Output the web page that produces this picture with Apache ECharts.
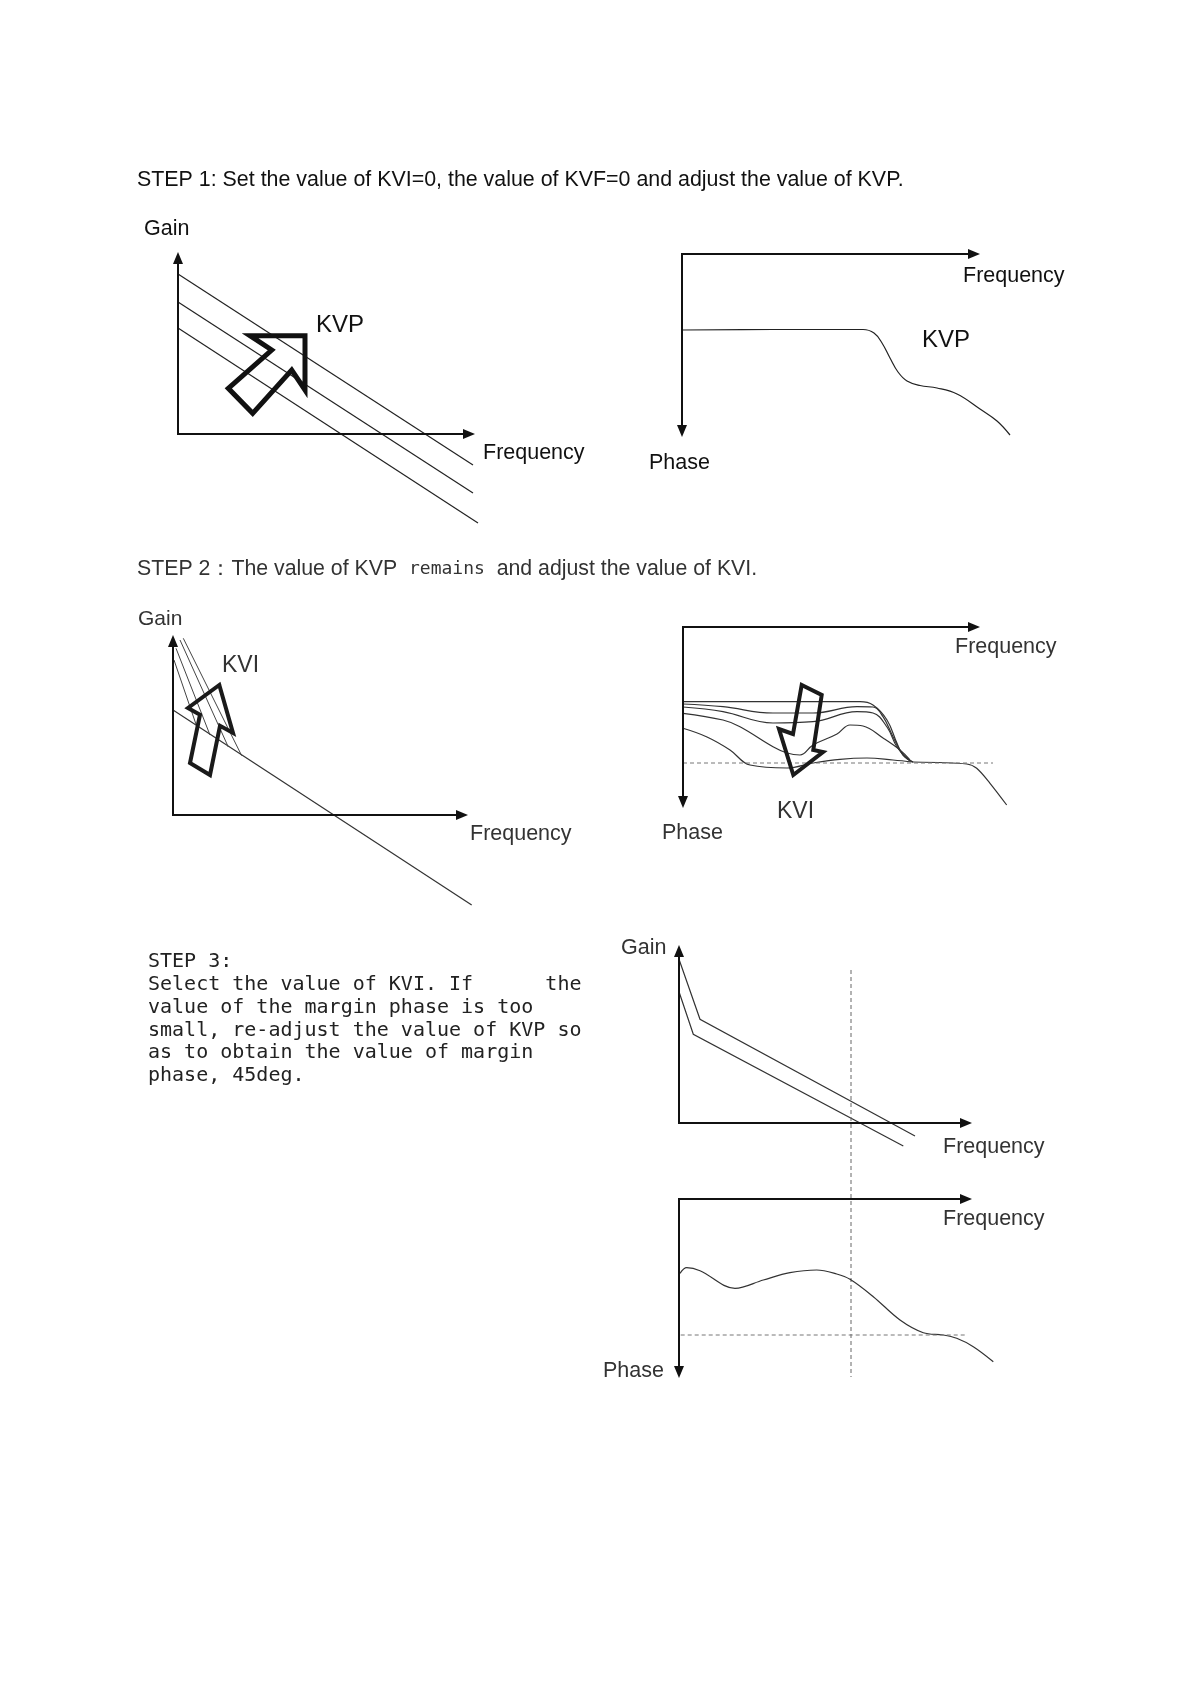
<!DOCTYPE html>
<html><head><meta charset="utf-8">
<script src="https://cdn.jsdelivr.net/npm/echarts@6/dist/echarts.min.js"></script>
<style>html,body{margin:0;padding:0;background:#fff}#c{width:1190px;height:1684px}</style>
</head><body><div id="c"></div>
<script>
// ---------- DATA (local diagram units, origin at each panel's axis corner) ----------
// Axis arrow lengths per panel: [frequency axis, gain/phase axis]
const axisLengths = [[291,176],[292,177],[289,174],[291,175],[287,172],[287,173]];
// STEP 1 – gain vs frequency (three parallel KVP lines)
const s1GainLineA = [[0,160],[295,-31]];
const s1GainLineB = [[0,132],[295,-59]];
const s1GainLineC = [[0,106],[300,-89]];
const s1KvpArrow = [[127,98.3],[127,44],[113.7,64],[74.7,20.7],[50.3,45.7],[93.7,84],[72,98.3]];
// STEP 1 – phase vs frequency
const s1PhaseCurve = [[0,76],[90,75.5],[181,75.5],[192,79],[200,89],[208,104],[216,118],[225,127],[238,131.5],[255,134],[275,140],[298,155],[315,167],[328,181]];
// STEP 2 – gain
const s2GainMain = [[0,105],[298.7,-90]];
const s2GainSteep1 = [[1,155],[23,90.7]];
const s2GainSteep2 = [[3,166.7],[37,80]];
const s2GainSteep3 = [[7,175],[55.3,68]];
const s2GainSteep4 = [[10.3,176.7],[68.7,59.3]];
const s2KviArrowUp = [[46.3,130],[60,82],[47,89.2],[37,40],[17,52],[27,100.3],[15,107]];
// STEP 2 – phase (family of KVI curves)
const s2PhaseC1 = [[0,74.7],[90,74.7],[177,74.7],[190,78],[204,93],[214,116.3],[220,128],[230,135]];
const s2PhaseC2 = [[0,77],[40,79.7],[90,86],[130,86],[174,79.7],[190,80],[200,89.7],[210,109.7],[220,128],[230,135]];
const s2PhaseC3 = [[0,80],[40,84.7],[90,96],[130,94.7],[174,84.7],[190,86],[204,100],[214,120],[227,134]];
const s2PhaseC4 = [[0,86.3],[40,93],[57,99.7],[90,119.7],[104,126],[117,128],[130,118],[154,107],[167,98],[180,99],[200,111],[217,123],[227,133]];
const s2PhaseC5 = [[0,101.3],[24,110],[47,123],[67,138],[104,141],[130,136],[157,132.3],[184,131],[210,133],[230,135]];
const s2PhaseTail = [[230,135],[283.7,137],[293.7,141.3],[307,156.3],[323.7,178]];
const s2MarginRef = [[0,136],[310,136]];
const s2KviArrowDown = [[118.7,58],[138.7,68],[130.3,123],[140,125],[110.3,148],[96,102],[110,107]];
// STEP 3 – gain
const s3GainUpper = [[0,163.7],[21,103.7],[236,-13]];
const s3GainLower = [[0,131.3],[14.3,88.7],[224.3,-23]];
const s3Crossover = [[172,153],[172,-254]];
// STEP 3 – phase
const s3PhaseCurve = [[1,74.3],[7.7,68.7],[21,71.7],[56,89.3],[84.3,81],[111,73.7],[137.7,71],[157.7,75],[171,80.3],[194.3,97.7],[221,121],[244.3,133.7],[264.3,136],[277.7,139.3],[294.3,147.7],[314.3,162.7]];
const s3MarginRef = [[1.7,136],[287.7,136]];

// ---------- LAYOUT ----------
// origin = page position of the axis corner; x/y = visible local ranges
const panels = [
  {ox:178, oy:434,  x:[-5,335], y:[-100,190], phase:false},  // step1 gain
  {ox:682, oy:254,  x:[-5,340], y:[-10,190],  phase:true},   // step1 phase
  {ox:173, oy:815,  x:[-5,335], y:[-100,190], phase:false},  // step2 gain
  {ox:683, oy:627,  x:[-5,340], y:[-10,190],  phase:true},   // step2 phase
  {ox:679, oy:1123, x:[-5,320], y:[-265,185], phase:false},  // step3 gain
  {ox:679, oy:1199, x:[-5,340], y:[-10,190],  phase:true}    // step3 phase
];
const grids = panels.map(p=>({
  left: p.ox + p.x[0], width: p.x[1]-p.x[0],
  top: p.phase ? p.oy + p.y[0] : p.oy - p.y[1], height: p.y[1]-p.y[0], containLabel:false
}));
const hidden = {show:false};
const xAxis = panels.map((p,i)=>({type:'value', gridIndex:i, min:p.x[0], max:p.x[1],
  axisLine:hidden, axisTick:hidden, axisLabel:hidden, splitLine:hidden}));
const yAxis = panels.map((p,i)=>({type:'value', gridIndex:i, min:p.y[0], max:p.y[1], inverse:p.phase,
  axisLine:hidden, axisTick:hidden, axisLabel:hidden, splitLine:hidden}));

function ln(gi, data, o){
  o = o || {};
  return {type:'line', xAxisIndex:gi, yAxisIndex:gi, data:data, clip:false, silent:true,
    symbol:'none', showSymbol:false, smooth:o.smooth||false, animation:false, z:o.z||2,
    lineStyle:{color:o.color||'#222', width:o.width||1.2, type:o.type||'solid', join:'miter', miterLimit:10}};
}
function axes(gi){
  const L = axisLengths[gi];
  return {type:'line', xAxisIndex:gi, yAxisIndex:gi, data:[[0,0]], symbol:'none', showSymbol:false,
    silent:true, animation:false, z:4, lineStyle:{width:0},
    markLine:{silent:true, animation:false, symbol:['none','triangle'], symbolSize:[10,12],
      label:{show:false}, lineStyle:{color:'#111', width:2, type:'solid'},
      emphasis:{disabled:true},
      data:[[{coord:[-1,0]},{coord:[L[0],0]}],[{coord:[0,-1]},{coord:[0,L[1]]}]]}};
}
function closed(pts){ return pts.concat([pts[0], pts[1]]); }

const series = [
  axes(0), axes(1), axes(2), axes(3), axes(4), axes(5),
  ln(0,s1GainLineA), ln(0,s1GainLineB), ln(0,s1GainLineC),
  ln(0,closed(s1KvpArrow),{color:'#111',width:5,z:3}),
  ln(1,s1PhaseCurve,{smooth:0.4}),
  ln(2,s2GainMain,{color:'#333'}), ln(2,s2GainSteep1,{color:'#444',width:1}), ln(2,s2GainSteep2,{color:'#444',width:1}),
  ln(2,s2GainSteep3,{color:'#444',width:1}), ln(2,s2GainSteep4,{color:'#444',width:1}),
  ln(2,closed(s2KviArrowUp),{color:'#1a1a1a',width:4,z:3}),
  ln(3,s2PhaseC1,{smooth:0.4,color:'#333'}), ln(3,s2PhaseC2,{smooth:0.4,color:'#333'}), ln(3,s2PhaseC3,{smooth:0.4,color:'#333'}),
  ln(3,s2PhaseC4,{smooth:0.4,color:'#333'}), ln(3,s2PhaseC5,{smooth:0.4,color:'#333'}), ln(3,s2PhaseTail,{smooth:0.3,color:'#333'}),
  ln(3,s2MarginRef,{type:[4,3],color:'#777',width:1}),
  ln(3,closed(s2KviArrowDown),{color:'#1a1a1a',width:4,z:3}),
  ln(4,s3GainUpper,{color:'#333'}), ln(4,s3GainLower,{color:'#333'}),
  ln(4,s3Crossover,{type:[4,3],color:'#666',width:1}),
  ln(5,s3PhaseCurve,{smooth:0.35,color:'#333'}),
  ln(5,s3MarginRef,{type:[4,3],color:'#777',width:1})
];

function txt(x,y,text,size,family,color){
  return {type:'text', x:x, y:y, silent:true, style:{text:text, fontSize:size, fontFamily:family||'Liberation Sans',
    fill:color||'#111', align:'left', verticalAlign:'middle'}};
}
const sans = 'Liberation Sans';
const mono = 'DejaVu Sans Mono';
const graphics = [
  txt(137,180,'STEP 1: Set the value of KVI=0, the value of KVF=0 and adjust the value of KVP.',21.4,sans,'#111'),
  txt(144,229,'Gain',21.5,sans),
  txt(316,325,'KVP',24,sans),
  txt(483,453,'Frequency',21.5,sans),
  txt(963,276,'Frequency',21.5,sans),
  txt(922,340,'KVP',24,sans),
  txt(649,463,'Phase',21.5,sans),
  {type:'text', x:137, y:569, silent:true, style:{
    text:'{a|STEP 2：The value of KVP  }{m|remains}{a|  and adjust the value of KVI.}',
    verticalAlign:'middle', align:'left',
    rich:{a:{fontSize:21.3,fontFamily:sans,fill:'#333'}, m:{fontSize:18,fontFamily:mono,fill:'#333'}}}},
  txt(138,619,'Gain',21,sans,'#333'),
  txt(222,666,'KVI',23,sans,'#333'),
  txt(470,834,'Frequency',21.5,sans,'#333'),
  txt(955,647,'Frequency',21.5,sans,'#333'),
  txt(777,812,'KVI',23,sans,'#333'),
  txt(662,833,'Phase',21.5,sans,'#333'),
  txt(148,962,'STEP 3:',20,mono,'#222'),
  txt(148,985,'Select the value of KVI. If      the',20,mono,'#222'),
  txt(148,1008,'value of the margin phase is too',20,mono,'#222'),
  txt(148,1031,'small, re-adjust the value of KVP so',20,mono,'#222'),
  txt(148,1053,'as to obtain the value of margin',20,mono,'#222'),
  txt(148,1076,'phase, 45deg.',20,mono,'#222'),
  txt(621,948,'Gain',21.5,sans,'#333'),
  txt(943,1147,'Frequency',21.5,sans,'#333'),
  txt(943,1219,'Frequency',21.5,sans,'#333'),
  txt(603,1371,'Phase',21.5,sans,'#333')
];

const chart = echarts.init(document.getElementById('c'), null, {renderer:'canvas'});
chart.setOption({
  backgroundColor:'#fff', animation:false,
  grid: grids, xAxis: xAxis, yAxis: yAxis, series: series, graphic: graphics
});
</script></body></html>
